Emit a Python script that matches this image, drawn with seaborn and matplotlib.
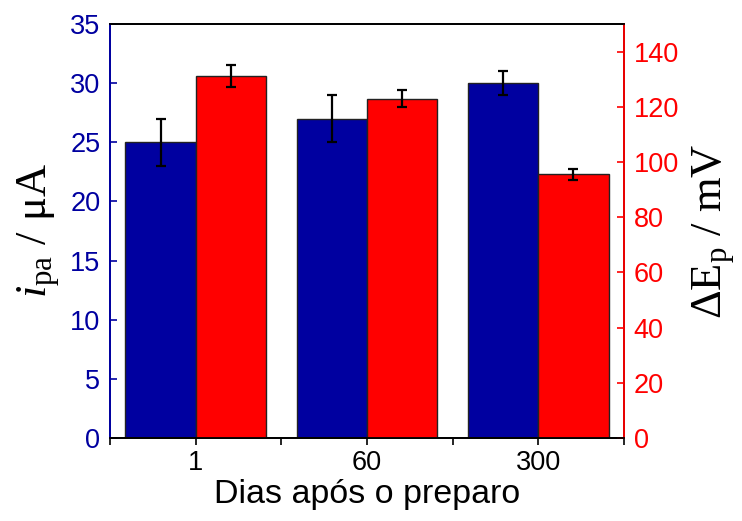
import numpy as np
import pandas as pd
import seaborn as sns
import matplotlib.pyplot as plt

# Data: anodic peak current and peak separation after storage
dias = ["1", "60", "300"]
ipa = [25.0, 27.0, 30.0]
ipa_err = [2.0, 2.0, 1.0]
dep = [131.0, 123.0, 95.5]
dep_err = [4.0, 3.0, 2.0]

BLUE = "#0000A0"
RED = "#FF0000"

sns.set_theme(style="white")
plt.rcParams["font.family"] = ["Liberation Sans", "DejaVu Sans"]
plt.rcParams["mathtext.fontset"] = "custom"
plt.rcParams["mathtext.rm"] = "Liberation Serif"
plt.rcParams["mathtext.it"] = "Liberation Serif:italic"
plt.rcParams["text.color"] = "black"
plt.rcParams["axes.labelcolor"] = "black"

df = pd.DataFrame({
    "dias": dias * 2,
    "serie": ["ipa"] * 3 + ["dep"] * 3,
    "valor": ipa + dep,
})
hue_order = ["ipa", "dep"]
palette = {"ipa": BLUE, "dep": RED}

fig = plt.figure(figsize=(7.42, 5.21), dpi=100)
ax = fig.add_axes([110 / 742, 1 - 438 / 521, (624 - 110) / 742, (438 - 24) / 521])
ax2 = ax.twinx()

common = dict(x="dias", y="valor", hue="serie", hue_order=hue_order, order=dias,
              palette=palette, saturation=1, width=0.82, gap=0, errorbar=None,
              legend=False, edgecolor="#222222", linewidth=1.0, dodge=True)
sns.barplot(data=df[df.serie == "ipa"], ax=ax, **common)
sns.barplot(data=df[df.serie == "dep"], ax=ax2, **common)


def add_errors(axis, errs):
    patches = [p for c in axis.containers for p in c.patches]
    patches = [p for p in patches if np.isfinite(p.get_height()) and p.get_height() > 0]
    xs = [p.get_x() + p.get_width() / 2 for p in patches]
    hs = [p.get_height() for p in patches]
    axis.errorbar(xs, hs, yerr=errs, fmt="none", ecolor="black",
                  elinewidth=1.6, capsize=3.3, capthick=1.6, zorder=5)


add_errors(ax, ipa_err)
add_errors(ax2, dep_err)

ax.set_xlim(-0.5, 2.5)
ax.set_ylim(0, 35)
ax2.set_ylim(0, 150)
ax.set_yticks(np.arange(0, 36, 5))
ax2.set_yticks(np.arange(0, 141, 20))
ax.set_xticks([0, 1, 2])
ax.set_xticklabels(dias)
ax.set_xticks([-0.5, 0.5, 1.5, 2.5], minor=True)

ax.tick_params(axis="y", direction="in", length=5, width=1.2, colors=BLUE,
               labelsize=19.5, pad=7, left=True)
ax.tick_params(axis="x", which="both", direction="out", length=5, width=1.2,
               colors="black", labelsize=19.5, pad=4, bottom=True)
ax2.tick_params(axis="y", direction="in", length=5, width=1.2, colors=RED,
                labelsize=19.5, pad=7, right=True)

for a in (ax, ax2):
    for s in a.spines.values():
        s.set_linewidth(1.3)
        s.set_color("black")
ax.spines["left"].set_color(BLUE)
ax2.spines["left"].set_color(BLUE)
ax2.spines["right"].set_color(RED)

ax.set_xlabel("Dias após o preparo", fontsize=24.5, labelpad=2, color="black")
ax.set_ylabel(r"$i_{\mathrm{pa}}$ / μA", fontsize=32, labelpad=6, color="black",
              family=["Liberation Serif", "DejaVu Serif"])
ax2.set_ylabel(r"ΔE$_{\mathrm{p}}$ / mV", fontsize=32, labelpad=8, color="black",
               family=["Liberation Serif", "DejaVu Serif"], rotation=90)

fig.savefig("out.png", dpi=100)
